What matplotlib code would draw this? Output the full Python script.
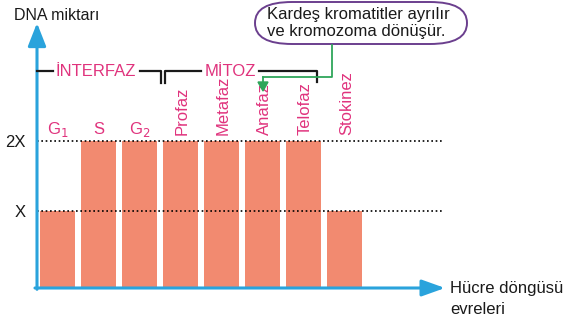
import matplotlib
matplotlib.use("Agg")
import matplotlib.pyplot as plt
from matplotlib.patches import FancyBboxPatch

plt.rcParams["font.family"] = ["Liberation Sans", "DejaVu Sans"]

# Cell-cycle phases and relative DNA amount (in units of X)
phases = ["G$_1$", "S", "G$_2$", "Profaz", "Metafaz", "Anafaz", "Telofaz", "Stokinez"]
rotated = [False, False, False, True, True, True, True, True]
dna_amount = [1, 2, 2, 2, 2, 2, 2, 1]
ytick_values = [1, 2]
ytick_labels = ["X", "2X"]

W, H = 571, 321
BLUE = "#2aa3dc"
BAR = "#f28a70"
PINK = "#e0337d"
GREEN = "#2fa65a"
PURPLE = "#6b3f8e"
INK = "#1a1a1a"
FS = 12

fig = plt.figure(figsize=(W / 100, H / 100), dpi=100)


def fx(px):
    return px / W


def fy(py):
    return 1 - py / H


# axes area: from the y axis (x=37px) to the x-arrow tip, baseline at y=288px
ax = fig.add_axes([fx(37), fy(288), fx(445) - fx(37), fy(23) - fy(288)])
y_floor = -0.095
ax.set_xlim(-0.5, 9.45)
ax.set_ylim(y_floor, 3.676)
for s in ax.spines.values():
    s.set_visible(False)
ax.set_xticks([])
ax.set_yticks(ytick_values)
ax.set_yticklabels(ytick_labels, fontsize=FS, color=INK)
ax.tick_params(axis="y", length=0, pad=8)

xs = list(range(len(phases)))
ax.bar(xs, [v - y_floor for v in dna_amount], bottom=y_floor, width=0.85,
       color=BAR, zorder=2)

# dotted reference levels
for v in ytick_values:
    ax.hlines(v, -0.5, 9.4, colors="black", linestyles=(0, (1, 1.6)),
              linewidth=1.2, zorder=3)

# phase names
for x, name, rot in zip(xs, phases, rotated):
    if rot:
        ax.text(x + 0.05, 2.08, name, rotation=90, ha="center", va="bottom",
                color=PINK, fontsize=FS)
    else:
        ax.text(x, 2.1, name, ha="center", va="baseline", color=PINK,
                fontsize=FS)

# axes arrows
ax.annotate("", xy=(0, 1.0), xytext=(0, -0.005), xycoords="axes fraction",
            arrowprops=dict(arrowstyle="-|>,head_length=1.4,head_width=0.55",
                            color=BLUE, lw=2.2, shrinkA=0, shrinkB=0),
            annotation_clip=False)
ax.annotate("", xy=(1.0, 0), xytext=(-0.005, 0), xycoords="axes fraction",
            arrowprops=dict(arrowstyle="-|>,head_length=1.4,head_width=0.5",
                            color=BLUE, lw=2.2, shrinkA=0, shrinkB=0),
            annotation_clip=False)

fig.text(fx(14), fy(15), "DNA miktarı", ha="left", va="center", fontsize=11.5,
         color=INK)
fig.text(fx(450), fy(288), "Hücre döngüsü", ha="left", va="center",
         fontsize=FS, color=INK)
fig.text(fx(450), fy(309), "evreleri", ha="left", va="center", fontsize=FS,
         color=INK)

# İNTERFAZ / MİTOZ brackets
fig.text(fx(96), fy(71), "İNTERFAZ", ha="center", va="center", color=PINK,
         fontsize=FS)
fig.text(fx(230), fy(71), "MİTOZ", ha="center", va="center", color=PINK,
         fontsize=FS)
bracket = [
    ([37, 53], [71, 71]),
    ([140, 161, 161], [71, 71, 83]),
    ([165, 165, 201], [83, 71, 71]),
    ([259, 317, 317], [71, 71, 82]),
]
for xp, yp in bracket:
    fig.add_artist(plt.Line2D([fx(p) for p in xp], [fy(p) for p in yp],
                              color=INK, lw=1.6))

# callout
box = FancyBboxPatch((fx(255), fy(44)), fx(467) - fx(255), fy(2) - fy(44),
                     boxstyle="round,pad=0,rounding_size=0.065",
                     transform=fig.transFigure, facecolor="white",
                     edgecolor=PURPLE, lw=1.4)
fig.add_artist(box)
fig.text(fx(267), fy(23), "Kardeş kromatitler ayrılır\nve kromozoma dönüşür.",
         ha="left", va="center", fontsize=FS, linespacing=1.1, color=INK)

# green pointer to Anafaz
fig.add_artist(plt.Line2D([fx(332), fx(332), fx(263)], [fy(45), fy(77), fy(77)],
                          color=GREEN, lw=1.3))
fig.add_artist(plt.Line2D([fx(263), fx(263)], [fy(77), fy(83)], color=GREEN, lw=1.3))
fig.patches.append(plt.Polygon([[fx(258), fy(82)], [fx(268), fy(82)],
                                [fx(263), fy(91)]], closed=True,
                               transform=fig.transFigure, color=GREEN))

fig.savefig("out.png", dpi=100)
